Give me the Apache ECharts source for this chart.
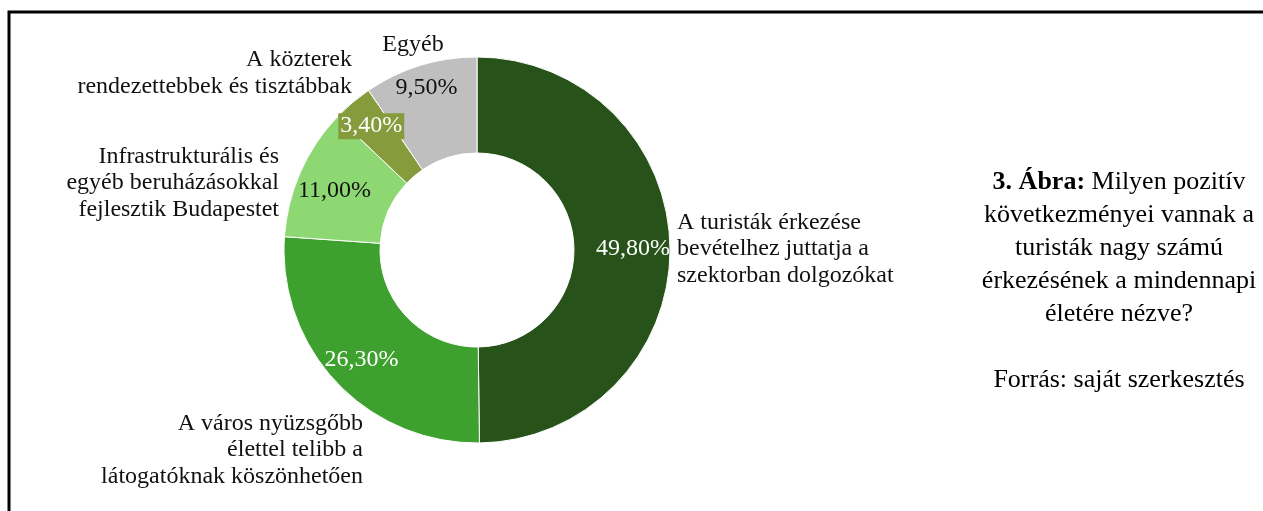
<!DOCTYPE html>
<html>
<head>
<meta charset="utf-8">
<script src="https://cdn.jsdelivr.net/npm/echarts@6/dist/echarts.min.js"></script>
<style>
html, body { margin: 0; padding: 0; background: #fff; }
#main { width: 1263px; height: 511px; }
</style>
</head>
<body>
<div id="main"></div>
<script>
// kategóriák és értékek (%)
var categories = [
	'A turisták érkezése\nbevételhez juttatja a\nszektorban dolgozókat',
	'A város nyüzsgőbb\nélettel telibb a\nlátogatóknak köszönhetően',
	'Infrastrukturális és\negyéb beruházásokkal\nfejlesztik Budapestet',
	'A közterek\nrendezettebbek és tisztábbak',
	'Egyéb'
];
var values = [49.8, 26.3, 11.0, 3.4, 9.5];

var captionLines = [
	'{b|3. Ábra:} Milyen pozitív',
	'következményei vannak a',
	'turisták nagy számú',
	'érkezésének a mindennapi',
	'életére nézve?',
	'',
	'Forrás: saját szerkesztés'
];

// stílusok
var colors = ['#27531a', '#3ea02e', '#8ed873', '#869b3c', '#bfbfbf'];
var pctColors = ['#fff', '#fff', '#111', '#fff', '#111'];
var pctOffsets = [[8, 0], [-8, 8], [-7, 0], [-10, -11], [-7, -21]];
// külső címkék helye: x, y (középső sor), igazítás
var outerPos = [
	[677, 249, 'left'],
	[363, 450, 'right'],
	[279, 183, 'right'],
	[352, 73, 'right'],
	[413, 45, 'center']
];

var FONT = '"Liberation Serif", "Times New Roman", serif';

function fmtPct(v) {
	return v.toFixed(2).replace('.', ',') + '%';
}

var innerData = [];
var outerData = [];
for (var i = 0; i < values.length; i++) {
	var lbl = {
		color: pctColors[i],
		offset: pctOffsets[i]
	};
	if (i == 3) {
		lbl.backgroundColor = colors[3];
		lbl.padding = [2, 2, 0, 2];
	}
	innerData.push({
		name: categories[i],
		value: values[i],
		itemStyle: { color: colors[i] },
		label: lbl
	});
	outerData.push({
		name: categories[i],
		value: values[i]
	});
}

var chart = echarts.init(document.getElementById('main'));
chart.setOption({
	animation: false,
	graphic: [{
		type: 'rect',
		shape: { x: 9, y: 12, width: 1400, height: 700 },
		style: { fill: 'none', stroke: '#000', lineWidth: 3 },
		z: 100
	}, {
		type: 'text',
		x: 1119,
		y: 166,
		style: {
			text: captionLines.join('\n'),
			align: 'center',
			verticalAlign: 'top',
			fontFamily: FONT,
			fontSize: 26,
			lineHeight: 33,
			fill: '#000',
			rich: {
				b: { fontFamily: FONT, fontSize: 26, fontWeight: 'bold', lineHeight: 33 }
			}
		}
	}],
	series: [{
		type: 'pie',
		center: [477, 250],
		radius: [97, 193],
		startAngle: 90,
		clockwise: true,
		avoidLabelOverlap: false,
		itemStyle: { borderColor: '#fff', borderWidth: 1 },
		label: {
			show: true,
			position: 'inside',
			fontFamily: FONT,
			fontSize: 24,
			formatter: function (p) {
				return fmtPct(p.value);
			}
		},
		labelLine: { show: false },
		data: innerData
	}, {
		type: 'pie',
		center: [477, 250],
		radius: [97, 193],
		startAngle: 90,
		clockwise: true,
		silent: true,
		avoidLabelOverlap: false,
		itemStyle: { color: 'rgba(0,0,0,0)' },
		label: {
			show: true,
			position: 'outside',
			fontFamily: FONT,
			fontSize: 24,
			lineHeight: 26.5,
			color: '#111',
			formatter: '{b}'
		},
		labelLine: { show: false },
		labelLayout: function (p) {
			var pos = outerPos[p.dataIndex];
			return {
				x: pos[0],
				y: pos[1],
				align: pos[2],
				verticalAlign: 'middle'
			};
		},
		data: outerData
	}]
});
</script>
</body>
</html>
